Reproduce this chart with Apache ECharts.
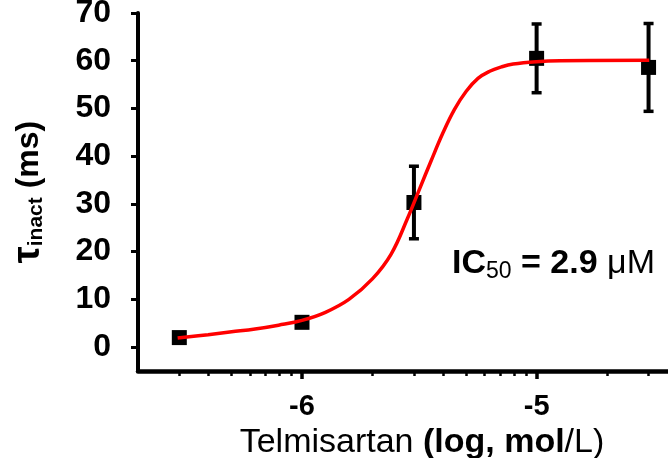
<!DOCTYPE html>
<html>
<head>
<meta charset="utf-8">
<script src="https://cdn.jsdelivr.net/npm/echarts@6/dist/echarts.min.js"></script>
<style>
  html, body { margin: 0; padding: 0; background: #fff; }
  #chart { width: 668px; height: 458px; }
</style>
</head>
<body>
<div id="chart"></div>
<script>
// ---- data ----
const concMicroM = [0.3, 1, 3, 10, 30];            // telmisartan, µM
const tauMean    = [2.0, 5.2, 30.3, 60.5, 58.6];   // τinact (ms)
const tauErr     = [0.8, 0.8, 7.6, 7.2, 9.2];      // error bar half-length (ms)

// fitted curve (x = log10 mol/L, y = ms)
const fitLogX = [-6.53, -6.40, -6.30, -6.20, -6.10, -6.00, -5.90, -5.80, -5.70, -5.62, -5.55, -5.50, -5.45, -5.40, -5.35, -5.30, -5.25, -5.20, -5.15, -5.10, -5.00, -4.90, -4.52];
const fitTau  = [1.9, 2.6, 3.2, 3.8, 4.6, 5.6, 7.3, 10.0, 14.3, 19.5, 27.0, 33.0, 39.0, 44.8, 49.8, 53.6, 56.3, 57.8, 58.7, 59.3, 59.8, 60.0, 60.1];

const yTicks = [0, 10, 20, 30, 40, 50, 60, 70];
const xMajorTicks = [-6, -5];
const minorMultipliers = [2, 3, 4, 5, 6, 7, 8, 9];
const minorDecades = [-7, -6, -5];

// ---- derived ----
const logX = concMicroM.map(c => Math.log10(c * 1e-6));
const points = logX.map((x, i) => [x, tauMean[i]]);
const errData = logX.map((x, i) => [x, tauMean[i] - tauErr[i], tauMean[i] + tauErr[i]]);
const fitData = fitLogX.map((x, i) => [x, fitTau[i]]);
const xMin = Math.log10(2e-7);
const xMax = -4.44;
const xMinorTicks = [];
minorDecades.forEach(d => {
  minorMultipliers.forEach(m => {
    const v = Math.log10(m) + d;
    if (v > xMin + 0.01 && v < xMax) xMinorTicks.push(v);
  });
});

const FONT = "'Liberation Sans', Arial, sans-serif";

const chart = echarts.init(document.getElementById('chart'), null, { renderer: 'canvas' });
chart.setOption({
  animation: false,
  backgroundColor: '#fff',
  grid: { left: 138, right: 0, top: 13, bottom: 87, containLabel: false, outerBoundsMode: 'none' },
  xAxis: [{
    type: 'value', min: xMin, max: xMax,
    splitLine: { show: false },
    axisLine: { onZero: false, lineStyle: { color: '#000', width: 4.5 } },
    axisTick: { customValues: xMajorTicks, length: 8, lineStyle: { color: '#000', width: 3.5 } },
    axisLabel: {
      customValues: xMajorTicks, margin: 21,
      formatter: v => String(Math.round(v)),
      color: '#000', fontFamily: FONT, fontWeight: 'bold', fontSize: 29
    },
    name: '{n|Telmisartan }{b|(log, mol}{n|/L)}',
    nameLocation: 'middle', nameGap: 43,
    nameTextStyle: {
      padding: [0, 0, 0, 38],
      rich: {
        n: { fontFamily: FONT, fontSize: 34, color: '#000', fontWeight: 'normal' },
        b: { fontFamily: FONT, fontSize: 34, color: '#000', fontWeight: 'bold' }
      }
    }
  }, {
    type: 'value', min: xMin, max: xMax, gridIndex: 0, position: 'bottom',
    splitLine: { show: false },
    axisLine: { show: false, onZero: false },
    axisTick: { customValues: xMinorTicks, length: 5, lineStyle: { color: '#000', width: 2.5 } },
    axisLabel: { show: false }
  }],
  yAxis: {
    type: 'value', min: -5, max: 70,
    splitLine: { show: false },
    axisLine: { show: true, onZero: false, lineStyle: { color: '#000', width: 4 } },
    axisTick: { show: true, customValues: yTicks, length: 7, lineStyle: { color: '#000', width: 3 } },
    axisLabel: {
      customValues: yTicks, margin: 27,
      color: '#000', fontFamily: FONT, fontWeight: 'bold', fontSize: 32
    },
    name: '{t|τ}{s|inact}{b| (ms)}',
    nameLocation: 'middle', nameRotate: 90, nameGap: 91,
    nameTextStyle: {
      rich: {
        t: { fontFamily: FONT, fontSize: 38, fontWeight: 'bold', color: '#000', lineHeight: 36 },
        s: { fontFamily: FONT, fontSize: 21, fontWeight: 'bold', color: '#000', lineHeight: 21, verticalAlign: 'bottom', padding: [14, 0, 0, 0] },
        b: { fontFamily: FONT, fontSize: 32, fontWeight: 'bold', color: '#000', lineHeight: 36 }
      }
    }
  },
  graphic: [{
    type: 'text', left: 452, top: 247, z: 10,
    style: {
      text: '{b|IC}{s|50}{b| = 2.9}{n| μM}',
      rich: {
        b: { fontFamily: FONT, fontSize: 34, fontWeight: 'bold', fill: '#000', lineHeight: 38 },
        s: { fontFamily: FONT, fontSize: 23, fontWeight: 'normal', fill: '#000', lineHeight: 23, verticalAlign: 'bottom', padding: [4, 0, 0, 0] },
        n: { fontFamily: FONT, fontSize: 34, fontWeight: 'normal', fill: '#000', lineHeight: 38 }
      }
    }
  }],
  series: [{
    type: 'custom', z: 2, xAxisIndex: 0,
    data: errData,
    renderItem: function (params, api) {
      const x = api.value(0);
      const lo = api.coord([x, api.value(1)]);
      const hi = api.coord([x, api.value(2)]);
      const cap = 5;
      return {
        type: 'group',
        children: [
          { type: 'line', shape: { x1: lo[0], y1: lo[1], x2: hi[0], y2: hi[1] }, style: { stroke: '#000', lineWidth: 4 } },
          { type: 'line', shape: { x1: lo[0] - cap, y1: lo[1], x2: lo[0] + cap, y2: lo[1] }, style: { stroke: '#000', lineWidth: 3.5 } },
          { type: 'line', shape: { x1: hi[0] - cap, y1: hi[1], x2: hi[0] + cap, y2: hi[1] }, style: { stroke: '#000', lineWidth: 3.5 } }
        ]
      };
    }
  }, {
    type: 'scatter', z: 3, xAxisIndex: 0,
    data: points, symbol: 'rect', symbolSize: 15,
    itemStyle: { color: '#000', opacity: 1 }
  }, {
    type: 'line', z: 4, xAxisIndex: 0,
    data: fitData, smooth: 0.4, showSymbol: false, symbol: 'none',
    lineStyle: { color: '#ff0000', width: 3.5 }
  }]
});
</script>
</body>
</html>
